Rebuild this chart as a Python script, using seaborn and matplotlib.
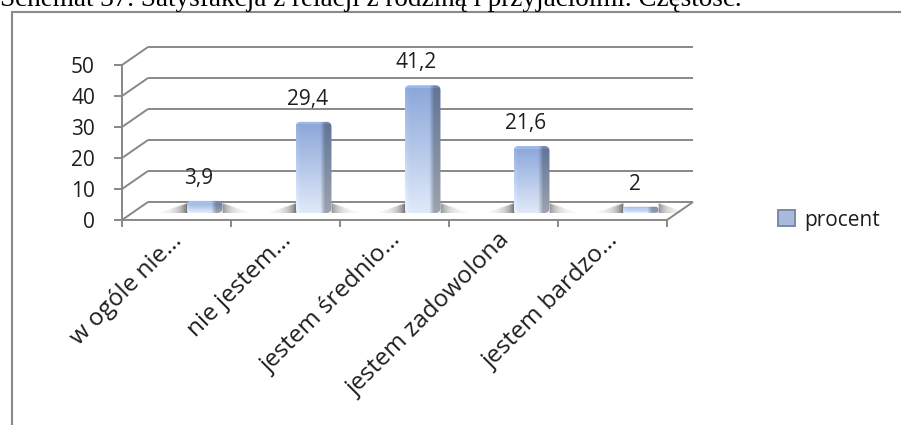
import numpy as np
import pandas as pd
import matplotlib
matplotlib.use("Agg")
import matplotlib.pyplot as plt
import matplotlib.transforms as mtransforms
from matplotlib.lines import Line2D
from matplotlib.patches import FancyBboxPatch, Patch
import seaborn as sns

# ---- data ----
categories = ["w ogóle nie…", "nie jestem…", "jestem średnio…", "jestem zadowolona", "jestem bardzo…"]
procent = [3.9, 29.4, 41.2, 21.6, 2.0]
value_labels = ["3,9", "29,4", "41,2", "21,6", "2"]
y_ticks = [0, 10, 20, 30, 40, 50]
y_tick_labels = ["0", "10", "20", "30", "40", "50"]
series_name = "procent"
caption = "Schemat 37. Satysfakcja z relacji z rodziną i przyjaciółmi. Częstość."

sns.set_theme(style="white")
plt.rcParams["font.family"] = ["Open Sans", "DejaVu Sans"]

W, H, DPI = 901, 425, 100
TEXT = "#1e1e1e"
GRID = "#888888"
FS = 15

fig = plt.figure(figsize=(W / DPI, H / DPI), dpi=DPI)
fig.patch.set_facecolor("white")


def rect_px(x0, y0, x1, y1):
    """Axes rectangle from pixel edges measured from the top-left corner."""
    return [x0 / W, 1 - y1 / H, (x1 - x0) / W, (y1 - y0) / H]


# The axes is the plane the columns stand in; back wall and front edges
# are drawn from it with fixed pixel offsets to give the oblique 3-D look.
ax = fig.add_axes(rect_px(150, 58, 695, 213))
ax.set_facecolor("none")
df = pd.DataFrame({"kategoria": categories, series_name: procent})
sns.barplot(data=df, x="kategoria", y=series_name, ax=ax, width=0.33,
            color="#9fb6e0", saturation=1, linewidth=0, errorbar=None, zorder=3)
ax.set_xlim(-0.5, 4.5)
ax.set_ylim(0, 50)
ax.set_xlabel("")
ax.set_ylabel("")
for sp in ax.spines.values():
    sp.set_visible(False)


def shift(dx, dy):
    return ax.transData + mtransforms.ScaledTranslation(dx / DPI, dy / DPI, fig.dpi_scale_trans)


BACK = (-2, 11)
FRONT = (-28, -7)
back_t = shift(*BACK)
front_t = shift(*FRONT)
to_data = ax.transData.inverted()
line_kw = dict(color=GRID, lw=1.4, solid_capstyle="butt", clip_on=False, zorder=1)


def seg(t1, p1, t2, p2, **kw):
    a = to_data.transform(t1.transform(p1))
    b = to_data.transform(t2.transform(p2))
    ax.plot([a[0], b[0]], [a[1], b[1]], **{**line_kw, **kw})


# back wall gridlines and the left wall diagonals
for v in y_ticks:
    ax.plot([-0.5, 4.5], [v, v], transform=back_t, **line_kw)
    seg(front_t, (-0.5, v), back_t, (-0.5, v))
    # y tick marks on the front axis
    seg(front_t, (-0.5, v), shift(FRONT[0] - 8, FRONT[1]), (-0.5, v))

# front axis lines and the right edge of the floor
ax.plot([-0.5, -0.5], [0, 50], transform=front_t, **line_kw)
ax.plot([-0.5, 4.5], [0, 0], transform=front_t, **line_kw)
seg(front_t, (4.5, 0), back_t, (4.5, 0))
for k in np.arange(-0.5, 5.0, 1.0):
    seg(front_t, (k, 0), shift(FRONT[0], FRONT[1] - 7), (k, 0))

# ---- shaded columns ----
px_x = ax.transData.transform((1, 0))[0] - ax.transData.transform((0, 0))[0]
px_y = ax.transData.transform((0, 1))[1] - ax.transData.transform((0, 0))[1]
aspect = px_x / px_y

top_c = np.array([0.54, 0.65, 0.85])
bot_c = np.array([0.88, 0.915, 0.975])

for bar in list(ax.patches):
    x0, w, h = bar.get_x(), bar.get_width(), bar.get_height()
    bar.set_facecolor("none")
    w_px, h_px = w * px_x, h * px_y
    r_px = min(5.0, h_px / 2 - 0.3)
    shape = FancyBboxPatch((x0, 0), w, h,
                           boxstyle=f"round,pad=0,rounding_size={r_px / px_x}",
                           mutation_aspect=aspect, facecolor="none",
                           edgecolor="none", zorder=3)
    ax.add_patch(shape)

    ny, nx = max(int(round(h_px)), 2), max(int(round(w_px)), 2)
    t = np.linspace(0, 1, ny)[:, None, None]
    col = top_c * (1 - t) + bot_c * t
    s = np.linspace(0, 1, nx)[None, :, None]
    fac = 1 - 0.30 * np.clip((s - 0.68) / 0.14, 0, 1) + 0.05 * np.clip((0.12 - s) / 0.12, 0, 1)
    img = np.clip(col * fac, 0, 1)
    rows = np.arange(ny)[:, None, None]
    img = np.clip(img + 0.07 * (rows < 3), 0, 1)
    im = ax.imshow(img, extent=(x0, x0 + w, 0, h), aspect="auto",
                   interpolation="bilinear", zorder=3)
    im.set_clip_path(shape)

    # soft floor shadow on both sides of the base
    reach_px = 28
    sw = reach_px / px_x
    sh_x = np.linspace(x0 - sw, x0 + w + sw, 120)
    sh_y = np.linspace(-2, 9, 24) / px_y
    gx, gy = np.meshgrid(sh_x, sh_y)
    d = np.maximum(x0 - gx, gx - (x0 + w)) * px_x
    d = np.clip(d, 0, None)
    above = gy * px_y
    reach = 9 * (1 - d / reach_px)
    alpha = 0.8 * np.exp(-d / 9) * (above < reach) * (d > 0)
    alpha *= np.where(gx > x0 + w, 0.75, 1.0)
    rgba = np.zeros(gx.shape + (4,))
    rgba[..., :3] = 0.30
    rgba[..., 3] = alpha
    ax.imshow(rgba, extent=(sh_x[0], sh_x[-1], sh_y[0], sh_y[-1]), origin="lower",
              aspect="auto", interpolation="bilinear", zorder=2)

ax.set_xlim(-0.5, 4.5)
ax.set_ylim(0, 50)

# ---- value labels ----
for i, (v, lbl) in enumerate(zip(procent, value_labels)):
    ax.annotate(lbl, (i, v), xytext=(-6, 12), textcoords="offset pixels",
                ha="center", va="bottom", fontsize=FS, color=TEXT, zorder=4)

# ---- tick labels placed on the front plane ----
ax.set_yticks(y_ticks, y_tick_labels)
ax.set_xticks(range(len(categories)), categories)
ax.tick_params(axis="both", length=0, pad=0, labelsize=FS, labelcolor=TEXT)
ax.tick_params(axis="x", labelsize=17.5)
for lab in ax.get_yticklabels():
    lab.set_transform(lab.get_transform() + mtransforms.ScaledTranslation(
        (FRONT[0] - 27) / DPI, FRONT[1] / DPI, fig.dpi_scale_trans))
for lab in ax.get_xticklabels():
    lab.set_rotation(45)
    lab.set_rotation_mode("anchor")
    lab.set_ha("right")
    lab.set_va("top")
    lab.set_transform(lab.get_transform() + mtransforms.ScaledTranslation(
        (FRONT[0] - 6) / DPI, (FRONT[1] - 9) / DPI, fig.dpi_scale_trans))

# ---- legend ----
handle = Patch(facecolor="#a9bbdd", edgecolor="#7a8aa6", linewidth=1.4)
fig.legend([handle], [series_name], loc="center left",
           bbox_to_anchor=(778 / W, 1 - 220 / H), frameon=False, fontsize=FS,
           handlelength=0.8, handleheight=0.8, handletextpad=0.45,
           borderpad=0, borderaxespad=0, labelcolor=TEXT)

# ---- chart frame and the caption above it ----
fig.add_artist(Line2D([11.5 / W, 11.5 / W], [0, 1 - 12 / H], color="#8a8a8a", lw=1.5))
fig.add_artist(Line2D([11.5 / W, 1], [1 - 12 / H, 1 - 12 / H], color="#8a8a8a", lw=1.5))
fig.text(0, 1 - 6 / H, caption, family=["Liberation Serif"], fontsize=19.5,
         ha="left", va="baseline", color="black")

fig.savefig("out.png", dpi=DPI)
